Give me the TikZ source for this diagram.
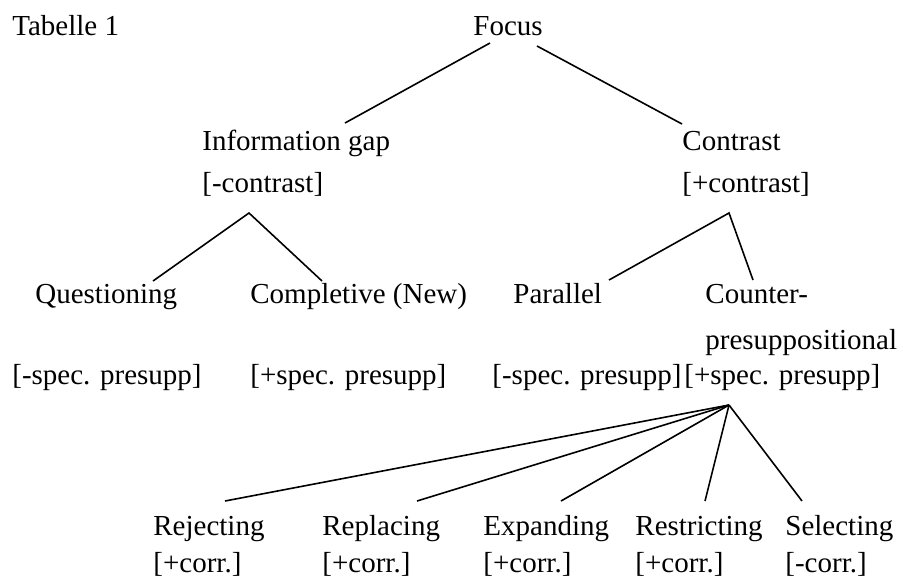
\documentclass[tikz,border=0pt]{standalone}
\usepackage{fontspec}
\setmainfont{Liberation Serif}
\usepackage{tikz}
\usetikzlibrary{positioning}

\begin{document}
\begin{tikzpicture}[
    x=0.5pt, y=-0.5pt,
    lbl/.style={anchor=base west, inner sep=0pt, font=\fontsize{14.5}{21}\selectfont},
    branch/.style={line width=0.8pt, black}
]
\useasboundingbox (0,0) rectangle (903,579);

% top
\node[lbl] (title) at (12,35) {Tabelle 1};
\node[lbl] (focus) at (473,35) {Focus};

% second level
\node[lbl] (info) at (202,150) {Information gap};
\node[lbl] (infof) at (202,192) {[-contrast]};
\node[lbl] (contrast) at (682,150) {Contrast};
\node[lbl] (contrastf) at (682,192) {[+contrast]};

% third level
\node[lbl] (quest) at (35,303) {Questioning};
\node[lbl] (compl) at (250,303) {Completive (New)};
\node[lbl] (par) at (513,303) {Parallel};
\node[lbl, align=left] (counter) at (705,349) {Counter-\\[2pt]presuppositional};
\node[lbl] (questf) at (12,384) {[-spec. presupp]};
\node[lbl] (complf) at (250,384) {[+spec. presupp]};
\node[lbl] (parf) at (492,384) {[-spec. presupp]};
\node[lbl] (counterf) at (684,384) {[+spec. presupp]};

% fourth level
\node[lbl] (rej) at (153,535) {Rejecting};
\node[lbl] (rejf) at (153,572) {[+corr.]};
\node[lbl] (repl) at (322,535) {Replacing};
\node[lbl] (replf) at (322,572) {[+corr.]};
\node[lbl] (expd) at (483,535) {Expanding};
\node[lbl] (expdf) at (483,572) {[+corr.]};
\node[lbl] (restr) at (635,535) {Restricting};
\node[lbl] (restrf) at (635,572) {[+corr.]};
\node[lbl] (sel) at (785,535) {Selecting};
\node[lbl] (self) at (785,572) {[-corr.]};

\coordinate (infoJoin) at ([shift={(47,21)}]infof.base west);
\coordinate (contrastJoin) at ([shift={(47,21)}]contrastf.base west);
\coordinate (counterJoin) at ([shift={(45,21)}]counterf.base west);

\draw[branch] ([shift={(17,8)}]focus.base west) -- ([shift={(143,-27)}]info.base west);
\draw[branch] ([shift={(64,11)}]focus.base west) -- ([shift={(0,-26)}]contrast.base west);
\draw[branch] ([shift={(118,-22)}]quest.base west) -- (infoJoin)
              -- ([shift={(72,-22)}]compl.base west);
\draw[branch] ([shift={(96,-23)}]par.base west) -- (contrastJoin)
              -- ([shift={(48,-69)}]counter.base west);
\foreach \n/\dx in {rej/72, repl/95, expd/78, restr/70, sel/17}
    \draw[branch] (counterJoin) -- ([shift={(\dx,-34)}]\n.base west);
\end{tikzpicture}
\end{document}
